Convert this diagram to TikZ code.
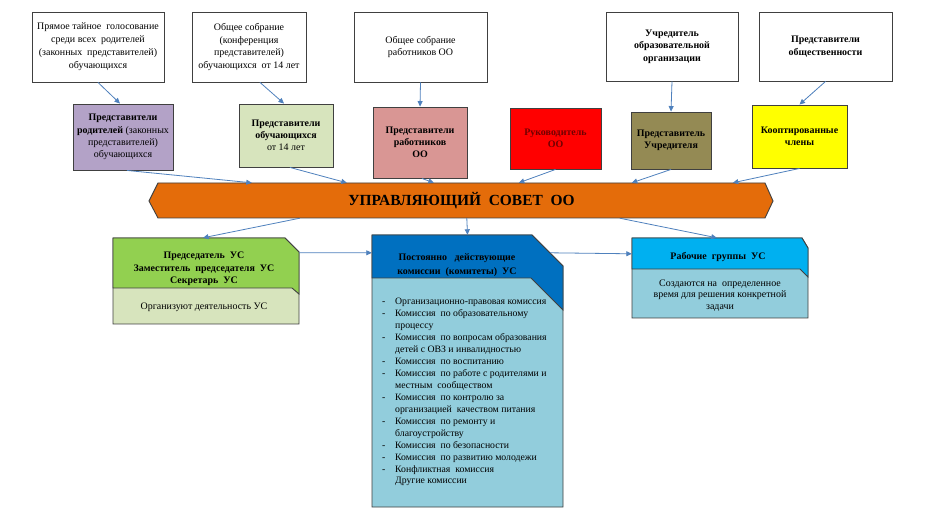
\documentclass[tikz,border=0pt]{standalone}
\usepackage{fontspec}
\setmainfont{Liberation Serif}
\usetikzlibrary{arrows.meta,calc}
\definecolor{arrowblue}{RGB}{79,129,189}
\definecolor{cpurple}{RGB}{179,162,199}
\definecolor{clgreen}{RGB}{215,228,189}
\definecolor{cpink}{RGB}{217,150,148}
\definecolor{cred}{RGB}{255,0,0}
\definecolor{cdarkred}{RGB}{112,0,0}
\definecolor{colive}{RGB}{148,138,84}
\definecolor{cyellow}{RGB}{255,255,0}
\definecolor{corange}{RGB}{228,108,10}
\definecolor{cgreen}{RGB}{146,208,80}
\definecolor{cblue}{RGB}{0,112,192}
\definecolor{cskyblue}{RGB}{0,176,240}
\definecolor{clblue}{RGB}{146,205,220}
\definecolor{cborder}{RGB}{64,64,64}
\newcommand{\lidash}{\makebox[17bp][l]{\hspace{4bp}-}}
\newcommand{\licont}{\hspace*{17bp}}
\begin{document}
\begin{tikzpicture}[x=1bp,y=-1bp,
  topbox/.style={draw=cborder, line width=0.9bp, fill=white, align=center, inner sep=2bp, font=\fontsize{10}{13}\selectfont},
  midbox/.style={draw=cborder, line width=0.9bp, align=center, inner sep=2bp, font=\fontsize{10}{12.2}\selectfont},
  conn/.style={draw=arrowblue, line width=0.8bp, -{Triangle[length=5.5bp,width=5bp]}},
  shapebox/.style={draw=none, inner sep=0pt},
  txt/.style={align=center, inner sep=0pt},
  shp/.style={draw=cborder, line width=0.9bp},
]
\useasboundingbox[fill=white] (0,0) rectangle (941,519);

% top row
\node[topbox, minimum width=132bp, minimum height=70bp] (t1) at (98,47)
  {Прямое тайное\ \ голосование\\среди всех\ \ родителей\\(законных\ \ представителей)\\обучающихся};
\node[topbox, minimum width=114bp, minimum height=70bp] (t2) at (249,47)
  {Общее собрание\\(конференция\\представителей)\\обучающихся\ \ от 14 лет};
\node[topbox, minimum width=133bp, minimum height=70bp] (t3) at (420.5,47)
  {Общее собрание\\работников ОО};
\node[topbox, minimum width=132bp, minimum height=69bp, font=\bfseries\fontsize{10}{12.5}\selectfont] (t4) at (672,46.5)
  {Учредитель\\образовательной\\организации};
\node[topbox, minimum width=133bp, minimum height=69bp, font=\bfseries\fontsize{10}{12.5}\selectfont] (t5) at (825.5,46.5)
  {Представители\\общественности};

% middle row
\node[midbox, fill=cpurple, minimum width=100bp, minimum height=66bp] (m1) at (123,137)
  {\textbf{Представители}\\\textbf{родителей} (законных\\представителей)\\обучающихся};
\node[midbox, fill=clgreen, minimum width=94bp, minimum height=63bp] (m2) at (286,135.5)
  {\textbf{Представители}\\\textbf{обучающихся}\\от 14 лет};
\node[midbox, fill=cpink, minimum width=94bp, minimum height=71bp, font=\bfseries\fontsize{10}{12.2}\selectfont] (m3) at (420,142.5)
  {Представители\\работников\\ОО};
\node[midbox, fill=cred, text=cdarkred, minimum width=91bp, minimum height=61bp, font=\bfseries\fontsize{10}{12.2}\selectfont] (m4) at (555.5,138.5)
  {Руководитель\\ОО};
\node[midbox, fill=colive, minimum width=80bp, minimum height=57bp, font=\bfseries\fontsize{10}{12.2}\selectfont] (m5) at (671,140.5)
  {Представитель\\Учредителя};
\node[midbox, fill=cyellow, minimum width=95bp, minimum height=63bp, font=\bfseries\fontsize{10}{12.2}\selectfont] (m6) at (799.5,136.5)
  {Кооптированные\\члены};

% banner
\filldraw[shp, fill=corange] (149,201) -- (158,183) -- (765,183) -- (773,201) -- (765,218) -- (158,218) -- cycle;
\node[shapebox, minimum width=607bp, minimum height=35bp, font=\bfseries\fontsize{15.5}{18}\selectfont] (uc) at (461.5,200.5)
  {УПРАВЛЯЮЩИЙ\ \ СОВЕТ\ \ ОО};

% bottom left
\filldraw[shp, fill=clgreen] (113,238) -- (285,238) -- (299,252) -- (299,324) -- (113,324) -- cycle;
\filldraw[shp, fill=cgreen] (113,238) -- (285,238) -- (299,252) -- (299,294) -- (292,288) -- (113,288) -- cycle;
\node[shapebox, minimum width=186bp, minimum height=86bp] (b1) at (206,281) {};
\node[txt, font=\bfseries\fontsize{10}{12.7}\selectfont] (b1t) at (204,269)
  {Председатель\ \ УС\\Заместитель\ \ председателя\ \ УС\\Секретарь\ \ УС};
\node[txt, font=\fontsize{10}{12}\selectfont] (b1s) at (204,307)
  {Организуют деятельность УС};

% bottom middle
\filldraw[shp, fill=clblue] (372,235) -- (532,235) -- (563,266) -- (563,507) -- (372,507) -- cycle;
\filldraw[shp, fill=cblue] (372,235) -- (532,235) -- (563,266) -- (563,310) -- (531,278) -- (372,278) -- cycle;
\node[shapebox, minimum width=191bp, minimum height=272bp] (b2) at (467.5,371) {};
\node[txt, font=\bfseries\fontsize{10}{14}\selectfont] (b2t) at (457,265)
  {Постоянно\ \ \ действующие\\комиссии\ \ (комитеты)\ \ УС};
\node[anchor=north west, inner sep=0pt, align=left, font=\fontsize{9.8}{12}\selectfont] (b2l) at (378,298)
  {\lidash Организационно-правовая комиссия\\
   \lidash Комиссия\ \ по образовательному\\
   \licont процессу\\
   \lidash Комиссия\ \ по вопросам образования\\
   \licont детей с ОВЗ и инвалидностью\\
   \lidash Комиссия\ \ по воспитанию\\
   \lidash Комиссия\ \ по работе с родителями и\\
   \licont местным\ \ сообществом\\
   \lidash Комиссия\ \ по контролю за\\
   \licont организацией\ \ качеством питания\\
   \lidash Комиссия\ \ по ремонту и\\
   \licont благоустройству\\
   \lidash Комиссия\ \ по безопасности\\
   \lidash Комиссия\ \ по развитию молодежи\\
   \lidash Конфликтная\ \ комиссия\\
   \licont Другие комиссии};

% bottom right
\filldraw[shp, fill=clblue] (632,238) -- (802,238) -- (808,248) -- (808,318) -- (632,318) -- cycle;
\filldraw[shp, fill=cskyblue] (632,238) -- (802,238) -- (808,248) -- (808,277) -- (800,269) -- (632,269) -- cycle;
\node[shapebox, minimum width=176bp, minimum height=80bp] (b3) at (720,278) {};
\node[txt, font=\bfseries\fontsize{10}{12}\selectfont] (b3t) at (718,257)
  {Рабочие\ \ группы\ \ УС};
\node[txt, font=\fontsize{10}{11.5}\selectfont] (b3s) at (720,295.5)
  {Создаются на\ \ определенное\\время для решения конкретной\\задачи};

% connectors top -> middle
\draw[conn] (t1.south) -- ($(m1.north)+(-3,0)$);
\draw[conn] ($(t2.south)+(11,0)$) -- ($(m2.north)+(-2,0)$);
\draw[conn] (t3.south) -- (m3.north);
\draw[conn] (t4.south) -- (m5.north);
\draw[conn] (t5.south) -- (m6.north);

% middle -> banner
\draw[conn] ($(m1.south)+(4,0)$) -- ($(uc.north west)+(94,0)$);
\draw[conn] ($(m2.south)+(4,0)$) -- ($(uc.north west)+(189,0)$);
\draw[conn] ($(m3.south)+(2,0)$) -- ($(uc.north west)+(276,0)$);
\draw[conn] (m4.south) -- ($(uc.north west)+(361,0)$);
\draw[conn] (m5.south) -- ($(uc.north west)+(474,0)$);
\draw[conn] (m6.south) -- ($(uc.north west)+(575,0)$);

% banner -> bottom
\draw[conn] ($(uc.south west)+(142,0)$) -- ($(b1.north)+(-3,0)$);
\draw[conn] ($(uc.south west)+(309,0)$) -- (b2.north);
\draw[conn] ($(uc.south west)+(462,0)$) -- ($(b3.north west)+(85,0)$);
\draw[conn] ($(b1.north east)+(0,15)$) -- ($(b2.north west)+(0,18)$);
\draw[conn] ($(b2.north east)+(-13,18)$) -- ($(b3.north west)+(0,16)$);
\end{tikzpicture}
\end{document}
